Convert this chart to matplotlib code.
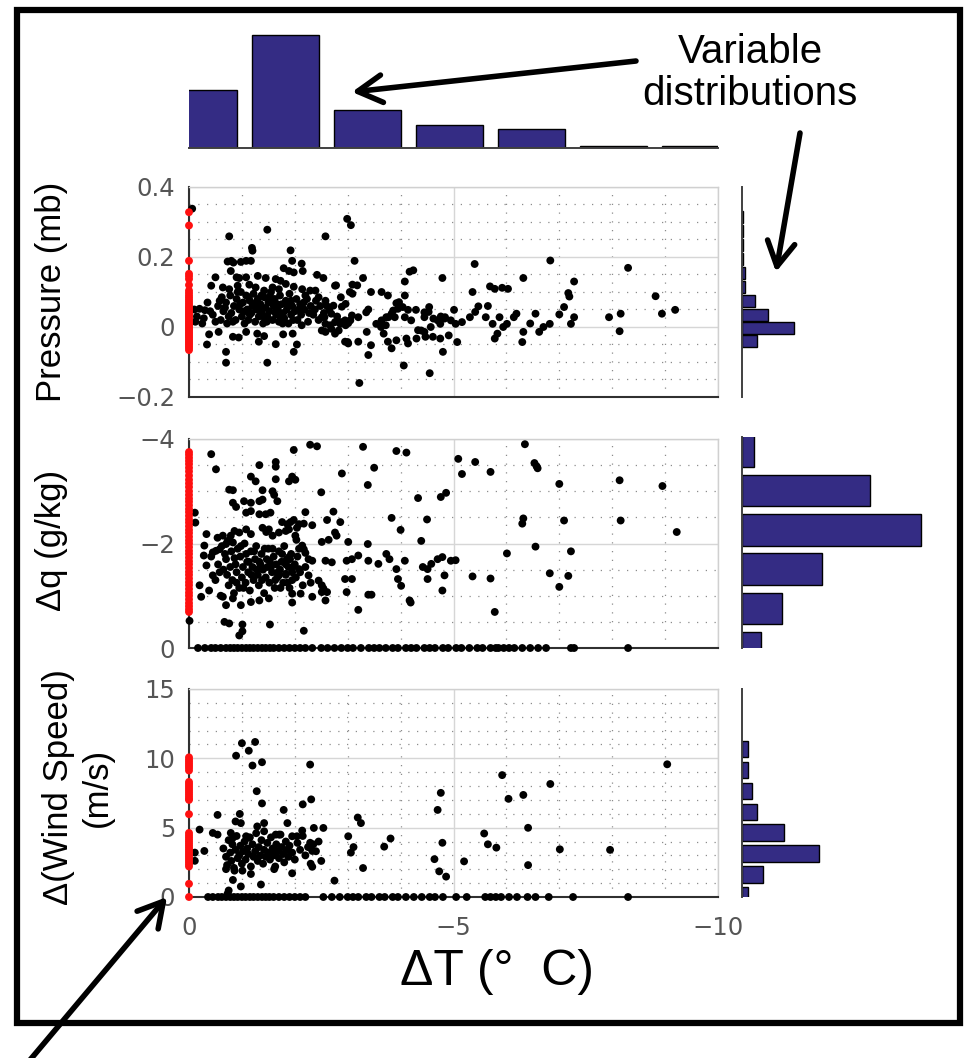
import numpy as np
import matplotlib

matplotlib.use("Agg")
import matplotlib.pyplot as plt
from matplotlib.patches import Rectangle
from matplotlib.ticker import MultipleLocator

# ---------------------------------------------------------------- data
# distribution of dT (top histogram)
dt_bin_centers = [-0.28, -1.83, -3.38, -4.93, -6.48, -8.03, -9.58]
dt_bin_counts = [58, 113, 38, 23, 19, 2, 2]

# pressure vs dT (black), pressure at dT = 0 (red)
pressure_pts = [
    (-0.06, 0.338), (-0.76, 0.259), (-1.48, 0.278), (-1.19, 0.226), (-1.2, 0.218),
    (-1.92, 0.219), (-2.58, 0.259), (-2.99, 0.309), (-3.06, 0.291), (-3.13, 0.189),
    (-0.73, 0.187), (-0.8, 0.189), (-0.84, 0.184), (-0.98, 0.186), (-1.08, 0.189),
    (-1.17, 0.189), (-1.95, 0.189), (-2.13, 0.181), (-0.79, 0.16), (-1.79, 0.168),
    (-1.89, 0.16), (-1.98, 0.156), (-2.15, 0.16), (-0.5, 0.142), (-0.9, 0.142),
    (-0.95, 0.14), (-1.08, 0.142), (-1.3, 0.146), (-1.45, 0.14), (-1.64, 0.137),
    (-1.73, 0.132), (-1.83, 0.123), (-2.42, 0.149), (-2.54, 0.14), (-3.29, 0.14),
    (-4.17, 0.158), (-4.08, 0.13), (-4.79, 0.14), (-0.42, 0.118), (-0.64, 0.113),
    (-0.76, 0.108), (-0.92, 0.118), (-1.14, 0.121), (-1.26, 0.113), (-1.42, 0.104),
    (-1.58, 0.113), (-1.7, 0.108), (-1.98, 0.115), (-2.14, 0.108), (-2.29, 0.104),
    (-2.39, 0.104), (-2.76, 0.118), (-3.09, 0.121), (-3.04, 0.1), (-3.44, 0.1),
    (-3.64, 0.1), (-3.76, 0.09), (-4.08, 0.09), (-2.45, 0.085), (-2.58, 0.075),
    (-2.6, 0.061), (-2.89, 0.058), (-2.73, 0.061), (-3.39, 0.05), (-3.35, 0.042),
    (-3.92, 0.068), (-3.95, 0.052), (-4.14, 0.049), (-4.29, 0.049), (-4.45, 0.042),
    (-4.54, 0.057), (-4.76, 0.03), (-5.01, 0.049), (-3.08, 0.033), (-3.2, 0.028),
    (-2.95, 0.019), (-3.01, 0.011), (-3.54, 0.009), (-3.64, 0.019), (-3.73, 0.028),
    (-3.83, 0.038), (-3.89, 0.028), (-4.2, 0.019), (-4.45, 0.028), (-4.7, 0.019),
    (-4.83, 0.024), (-4.95, 0.019), (-2.51, 0.028), (-2.76, 0.014), (-2.67, 0.005),
    (-2.58, 0.009), (-2.86, 0.009), (-2.69, -0.005), (-2.83, -0.01), (-2.96, 0.005),
    (-2.87, 0.014), (-2.56, 0.028), (-2.69, 0.038), (-2.78, 0.119), (-2.87, 0.085),
    (-2.96, 0.066), (-3.09, 0.095), (-3.18, 0.119), (-3.05, 0.019), (-3.63, 0.0),
    (-3.68, -0.019), (-3.72, 0.005), (-3.77, 0.028), (-3.86, 0.047), (-3.97, 0.071),
    (-4.04, 0.057), (-4.08, 0.028), (-4.14, -0.047), (-4.3, -0.033), (-4.39, -0.01),
    (-4.47, -0.028), (-4.53, 0.043), (-4.57, 0.0), (-4.62, 0.024), (-4.75, 0.009),
    (-4.75, -0.033), (-4.91, -0.024), (-5.07, -0.043), (-4.84, 0.028), (-4.24, 0.162),
    # dense cloud near the origin
    (-0.1, 0.05), (-0.2, 0.052), (-0.3, 0.048), (-0.4, 0.045), (-0.15, 0.03),
    (-0.28, 0.025), (-0.45, 0.035), (-0.55, 0.06), (-0.6, 0.02), (-0.65, 0.045),
    (-0.7, 0.07), (-0.72, 0.01), (-0.78, 0.09), (-0.8, 0.04), (-0.85, 0.06),
    (-0.88, 0.02), (-0.9, 0.08), (-0.95, 0.05), (-0.98, 0.1), (-1.0, 0.03),
    (-1.02, 0.07), (-1.05, 0.01), (-1.08, 0.09), (-1.1, 0.05), (-1.12, 0.02),
    (-1.15, 0.075), (-1.18, 0.04), (-1.2, 0.06), (-1.22, 0.095), (-1.25, 0.015),
    (-1.28, 0.05), (-1.3, 0.08), (-1.32, 0.03), (-1.35, 0.065), (-1.38, 0.04),
    (-1.4, 0.01), (-1.42, 0.085), (-1.45, 0.055), (-1.48, 0.03), (-1.5, 0.07),
    (-1.52, 0.045), (-1.55, 0.1), (-1.58, 0.02), (-1.6, 0.06), (-1.62, 0.08),
    (-1.65, 0.035), (-1.68, 0.05), (-1.7, 0.015), (-1.72, 0.09), (-1.75, 0.065),
    (-1.78, 0.04), (-1.8, 0.025), (-1.83, 0.075), (-1.85, 0.05), (-1.88, 0.01),
    (-1.9, 0.095), (-1.93, 0.035), (-1.95, 0.06), (-2.0, 0.045), (-2.03, 0.08),
    (-2.05, 0.02), (-2.1, 0.065), (-2.12, 0.035), (-2.18, 0.05), (-2.2, 0.09),
    (-2.25, 0.015), (-2.3, 0.06), (-2.35, 0.035), (-2.4, 0.075), (-2.45, 0.02),
    (-0.62, 0.085), (-0.75, 0.03), (-0.92, 0.1), (-1.05, 0.045), (-1.15, 0.035),
    (-1.27, 0.07), (-1.37, 0.09), (-1.47, 0.015), (-1.57, 0.075), (-1.67, 0.065),
    (-1.77, 0.01), (-1.87, 0.06), (-1.97, 0.02), (-2.07, 0.05), (-2.17, 0.07),
    (-2.27, 0.04), (-0.5, 0.015), (-0.58, 0.075), (-0.68, 0.055), (-0.83, 0.015),
    (-0.97, 0.065), (-1.13, 0.085), (-1.33, 0.055), (-1.43, 0.025), (-1.53, 0.088),
    (-1.63, 0.042), (-1.73, 0.028), (-1.93, 0.075), (-2.13, 0.005), (-2.23, 0.08),
    (-2.38, 0.05), (-2.48, 0.06), (-2.55, 0.04), (-2.65, 0.05), (-2.8, 0.03),
    (-0.35, 0.07), (-0.25, 0.01), (-0.12, 0.015),
    # below zero
    (-0.38, -0.021), (-0.56, -0.014), (-0.34, -0.05), (-0.7, -0.071), (-0.7, -0.102),
    (-0.83, -0.028), (-0.94, -0.03), (-1.08, -0.014), (-1.29, -0.019), (-1.32, -0.042),
    (-1.42, -0.026), (-1.64, -0.049), (-1.78, -0.021), (-1.96, -0.019), (-2.04, -0.05),
    (-1.98, -0.071), (-1.48, -0.102), (-2.51, -0.01), (-2.58, -0.014), (-2.76, -0.019),
    (-2.95, -0.042), (-3.01, -0.047), (-3.2, -0.042), (-3.36, -0.014), (-3.39, -0.08),
    (-3.44, -0.052), (-3.22, -0.16), (-3.76, -0.042), (-3.83, -0.061), (-3.92, -0.038),
    (-4.06, -0.11), (-4.11, -0.033), (-4.33, -0.009), (-4.45, -0.014), (-4.61, -0.028),
    (-4.8, -0.071), (-4.55, -0.132), (-3.0, -0.043),
    # beyond -5
    (-5.4, 0.18), (-6.83, 0.19), (-8.3, 0.169), (-6.32, 0.14), (-7.28, 0.13),
    (-5.36, 0.1), (-5.69, 0.116), (-5.78, 0.109), (-5.92, 0.112), (-6.03, 0.109),
    (-7.17, 0.097), (-7.19, 0.087), (-8.82, 0.088), (-7.09, 0.057), (-9.19, 0.049),
    (-8.94, 0.038), (-7.94, 0.028), (-8.16, 0.038), (-8.14, -0.012), (-7.28, 0.028),
    (-7.22, 0.009), (-7.0, 0.036), (-6.82, 0.009), (-6.62, -0.014), (-6.55, 0.038),
    (-6.32, -0.014), (-6.3, -0.043), (-6.14, 0.028), (-5.87, 0.028), (-5.74, 0.009),
    (-6.01, 0.009), (-5.83, -0.019), (-5.78, -0.033), (-6.19, 0.038), (-5.94, 0.0),
    (-5.61, 0.028), (-5.41, 0.043), (-5.31, 0.028), (-5.16, 0.014), (-5.04, 0.009),
    (-5.47, 0.059), (-5.65, 0.06), (-6.45, 0.01), (-6.7, 0.0),
]
pressure_red = [
    0.328, 0.29, 0.189, 0.152, 0.145, 0.137, 0.12, 0.104, 0.097, 0.09, 0.084,
    0.078, 0.072, 0.066, 0.06, 0.055, 0.05, 0.045, 0.04, 0.035, 0.03, 0.025,
    0.02, 0.015, 0.01, 0.005, 0.0, -0.005, -0.01, -0.015, -0.02, -0.025, -0.03,
    -0.035, -0.04, -0.045, -0.05, -0.055, -0.06, -0.066,
]

# humidity change vs dT
humidity_pts = [
    (-0.42, -3.71), (-0.51, -3.42), (-1.33, -3.5), (-1.64, -3.56), (-1.64, -3.47),
    (-1.98, -3.79), (-2.29, -3.89), (-2.42, -3.86), (-3.29, -3.85), (-3.92, -3.77),
    (-4.11, -3.74), (-2.89, -3.34), (-3.5, -3.45), (-3.38, -3.12), (-1.17, -3.28),
    (-1.26, -3.19), (-1.64, -3.23), (-1.89, -3.19), (-1.95, -3.28), (-2.01, -3.22),
    (-0.76, -3.03), (-0.83, -3.02), (-1.39, -3.02), (-1.58, -3.0), (-1.61, -2.93),
    (-2.5, -2.98), (-0.83, -2.78), (-1.04, -2.81), (-1.17, -2.78), (-1.33, -2.81),
    (-1.39, -2.84), (-1.67, -2.81), (-0.89, -2.7), (-1.08, -2.59), (-1.17, -2.62),
    (-1.33, -2.56), (-1.45, -2.56), (-1.54, -2.59), (-0.11, -2.59), (-0.12, -2.4),
    (-2.2, -2.6), (-2.73, -2.61), (-2.86, -2.41), (-2.61, -2.45), (-1.76, -2.41),
    (-1.86, -2.37), (-1.92, -2.41), (-1.98, -2.45), (-2.08, -2.37), (-2.17, -2.38),
    (-2.33, -2.35), (-3.83, -2.49), (-4.0, -2.26), (-4.5, -2.46), (-4.33, -2.87),
    (-4.76, -2.89), (-4.86, -2.97), (-1.39, -2.3), (-1.46, -2.22), (-1.51, -2.27),
    (-1.58, -2.15), (-1.7, -2.21), (-1.83, -2.24), (-1.89, -2.27), (-2.01, -2.15),
    (-2.03, -2.07), (-2.04, -2.3), (-1.08, -2.27), (-1.17, -2.18), (-0.95, -2.21),
    (-0.86, -2.24), (-0.79, -2.15), (-0.64, -2.15), (-0.54, -2.11), (-0.33, -2.18),
    (-0.29, -1.96), (-0.28, -1.77), (-0.45, -1.83), (-0.51, -1.86), (-0.58, -1.89),
    (-0.7, -1.99), (-0.76, -2.05), (-0.83, -2.02), (-2.51, -2.03), (-2.64, -2.07),
    (-2.76, -2.21), (-2.79, -2.15), (-3.01, -2.03), (-3.38, -1.99), (-4.39, -2.05),
    (-2.14, -1.96), (-2.17, -1.89), (-2.2, -1.82), (-2.26, -1.7), (-2.33, -1.67),
    (-2.58, -1.67), (-2.7, -1.64), (-2.98, -1.67), (-3.08, -1.7), (-3.2, -1.77),
    (-3.39, -1.67), (-3.58, -1.61), (-3.73, -1.8), (-3.79, -1.7), (-4.08, -1.67),
    (-4.42, -1.55), (-4.58, -1.61), (-4.7, -1.7), (-4.79, -1.74), (-4.95, -1.67),
    (-0.33, -1.58), (-0.45, -1.39), (-0.58, -1.45), (-1.89, -1.74), (-1.7, -1.39),
    (-1.83, -1.42), (-1.95, -1.45), (-2.08, -1.51), (-2.26, -1.39), (-2.45, -1.29),
    (-2.51, -1.2), (-2.54, -1.14), (-2.61, -1.07), (-2.95, -1.32), (-3.08, -1.32),
    (-3.92, -1.51), (-3.95, -1.32), (-4.01, -1.19), (-4.51, -1.51), (-4.51, -1.32),
    (-4.83, -1.39), (-4.79, -1.1), (-0.2, -1.2), (-0.23, -0.98), (-0.64, -0.98),
    (-0.7, -0.82), (-0.83, -0.95), (-0.98, -0.82), (-1.17, -0.88), (-1.33, -0.91),
    (-1.51, -0.95), (-1.95, -1.04), (-1.95, -0.87), (-2.11, -1.04), (-2.33, -0.98),
    (-2.51, -1.07), (-2.58, -0.91), (-2.98, -1.07), (-3.39, -1.02), (-3.45, -1.02),
    (-4.17, -0.91), (-4.19, -0.87), (-3.2, -0.73), (-0.01, -0.52), (-0.67, -0.5),
    (-0.76, -0.47), (-1.01, -0.45), (-1.01, -0.32), (-0.95, -0.24), (-1.53, -0.45),
    (-2.17, -0.33),
    # dense cloud
    (-0.62, -1.95), (-0.7, -1.7), (-0.72, -1.4), (-0.75, -1.2), (-0.78, -1.55),
    (-0.8, -1.85), (-0.82, -1.3), (-0.85, -1.05), (-0.88, -1.6), (-0.9, -1.45),
    (-0.92, -1.9), (-0.95, -1.15), (-0.97, -1.75), (-1.0, -1.35), (-1.02, -1.55),
    (-1.05, -2.0), (-1.07, -1.25), (-1.1, -1.65), (-1.12, -1.45), (-1.15, -1.1),
    (-1.17, -1.85), (-1.2, -1.55), (-1.22, -1.3), (-1.25, -1.7), (-1.27, -1.95),
    (-1.3, -1.4), (-1.32, -1.2), (-1.35, -1.6), (-1.37, -1.8), (-1.4, -1.5),
    (-1.42, -1.05), (-1.45, -1.35), (-1.47, -1.7), (-1.5, -1.9), (-1.52, -1.25),
    (-1.55, -1.55), (-1.57, -1.45), (-1.6, -1.75), (-1.62, -1.15), (-1.65, -1.6),
    (-1.67, -1.35), (-1.7, -1.85), (-1.72, -1.5), (-1.75, -1.65), (-1.78, -1.25),
    (-1.8, -1.95), (-1.83, -1.4), (-1.85, -1.7), (-1.88, -1.55), (-1.9, -1.15),
    (-1.93, -1.8), (-1.95, -1.3), (-2.0, -1.6), (-2.05, -1.75), (-2.1, -1.45),
    (-0.65, -1.5), (-0.68, -1.8), (-0.73, -2.05), (-0.86, -1.72), (-0.98, -1.95),
    (-1.08, -1.8), (-1.18, -1.4), (-1.28, -1.5), (-1.38, -1.3), (-1.48, -1.55),
    (-1.58, -1.9), (-1.68, -1.45), (-1.76, -1.8), (-1.86, -1.25), (-1.96, -1.55),
    (-2.02, -1.35), (-0.9, -1.25), (-1.03, -1.15), (-1.13, -1.65), (-1.23, -1.85),
    (-1.33, -1.65), (-1.43, -1.9), (-1.53, -1.65), (-1.63, -1.3), (-1.73, -1.15),
    (-1.83, -1.6), (-1.91, -1.7), (-2.08, -1.9), (-0.55, -1.6), (-0.5, -1.3),
    (-0.42, -1.75), (-0.38, -1.1), (-0.6, -1.0), (-2.15, -1.2), (-2.2, -1.55),
    (-2.3, -1.25),
    # beyond -5
    (-5.09, -3.62), (-5.16, -3.33), (-5.41, -3.56), (-5.7, -3.37), (-6.35, -3.9),
    (-6.53, -3.54), (-6.57, -3.48), (-6.59, -3.44), (-7.0, -3.14), (-8.14, -3.21),
    (-8.95, -3.1), (-6.32, -2.48), (-6.3, -2.38), (-7.09, -2.44), (-8.16, -2.44),
    (-9.22, -2.22), (-6.55, -1.94), (-6.01, -1.81), (-7.22, -1.85), (-6.82, -1.43),
    (-7.17, -1.38), (-7.0, -1.17), (-5.36, -1.37), (-5.7, -1.33), (-5.78, -0.69),
    (-5.04, -1.68),
]
humidity_zero_dt = [
    -0.17, -0.3, -0.42, -0.5, -0.6, -0.7, -0.78, -0.85, -0.92, -1.0, -1.08,
    -1.15, -1.22, -1.3, -1.38, -1.45, -1.53, -1.6, -1.7, -1.8, -1.9, -2.0, -2.1,
    -2.2, -2.33, -2.5, -2.62, -2.75, -2.88, -3.0, -3.1, -3.25, -3.4, -3.5, -3.6,
    -3.72, -3.85, -3.95, -4.1, -4.2, -4.3, -4.45, -4.55, -4.65, -4.8, -4.9,
    -5.05, -5.15, -5.3, -5.45, -5.55, -5.7, -5.8, -5.85, -5.95, -6.05, -6.15,
    -6.3, -6.45, -6.6, -6.75, -7.22, -7.28, -8.3,
]
humidity_red = [
    -3.75, -3.7, -3.64, -3.58, -3.52, -3.45, -3.38, -3.3, -3.22, -3.15, -3.08,
    -3.0, -2.93, -2.86, -2.8, -2.73, -2.66, -2.6, -2.53, -2.46, -2.4, -2.33,
    -2.26, -2.2, -2.13, -2.06, -2.0, -1.93, -1.86, -1.8, -1.73, -1.66, -1.6,
    -1.53, -1.46, -1.4, -1.33, -1.26, -1.2, -1.13, -1.06, -1.0, -0.93, -0.86,
    -0.8, -0.74, -0.69,
]

# wind speed change vs dT
wind_pts = [
    (-0.89, 10.19), (-1.0, 11.09), (-1.13, 10.55), (-1.25, 11.18), (-1.2, 9.48),
    (-1.38, 9.72), (-2.29, 9.55), (-1.28, 7.63), (-1.38, 6.75), (-2.31, 7.04),
    (-2.15, 6.68), (-1.79, 6.28), (-0.54, 5.92), (-0.96, 5.99), (-0.88, 5.45),
    (-0.98, 5.33), (-1.29, 5.09), (-1.42, 5.33), (-1.42, 4.74), (-1.86, 5.33),
    (-2.36, 4.98), (-2.54, 4.98), (-0.83, 1.23), (-1.36, 0.9), (-0.98, 0.76),
    (-0.75, 0.47), (-0.73, 0.24), (-2.75, 1.18), (-3.01, 4.38), (-3.11, 3.6),
    (-3.06, 3.2), (-3.19, 5.73), (-3.25, 5.33), (-3.69, 3.63), (-3.81, 4.22),
    (-3.29, 2.09), (-4.76, 7.51), (-4.7, 6.28), (-4.79, 3.91), (-4.64, 2.73),
    (-4.73, 1.85), (-4.86, 1.47), (-0.2, 4.86), (-0.45, 4.62), (-0.54, 4.5),
    (-0.79, 4.62), (-0.83, 4.27), (-1.08, 4.38), (-1.14, 4.27), (-1.64, 4.5),
    (-1.7, 4.5), (-1.95, 4.38), (-2.04, 4.38), (-2.14, 4.79), (-0.11, 3.2),
    (-0.29, 3.32), (-0.11, 2.61), (-2.33, 3.32), (-2.29, 3.91), (-2.33, 2.18),
    (-1.95, 1.71), (-1.17, 1.66), (-1.01, 1.9), (-0.86, 1.9), (-0.7, 2.01),
    (-1.61, 2.01),
    # dense cloud
    (-0.65, 3.5), (-0.7, 2.9), (-0.72, 2.3), (-0.75, 4.1), (-0.78, 3.2),
    (-0.8, 2.6), (-0.82, 3.8), (-0.85, 2.1), (-0.88, 3.4), (-0.9, 4.4),
    (-0.92, 2.8), (-0.95, 3.0), (-0.97, 3.7), (-1.0, 2.4), (-1.02, 3.3),
    (-1.05, 4.0), (-1.07, 2.7), (-1.1, 3.5), (-1.12, 3.1), (-1.15, 4.3),
    (-1.17, 2.2), (-1.2, 3.8), (-1.22, 2.9), (-1.25, 3.3), (-1.27, 4.6),
    (-1.3, 2.6), (-1.32, 3.6), (-1.35, 3.0), (-1.37, 4.1), (-1.4, 2.4),
    (-1.42, 3.4), (-1.45, 2.9), (-1.48, 3.9), (-1.5, 3.2), (-1.53, 2.7),
    (-1.55, 4.3), (-1.58, 3.5), (-1.6, 3.0), (-1.63, 2.2), (-1.65, 3.8),
    (-1.68, 3.3), (-1.7, 2.8), (-1.73, 4.5), (-1.75, 3.6), (-1.78, 3.1),
    (-1.8, 2.5), (-1.83, 4.0), (-1.85, 3.4), (-1.88, 2.9), (-1.9, 3.7),
    (-1.95, 3.2), (-2.0, 2.7), (-2.05, 3.9), (-2.1, 3.4), (-2.15, 4.4),
    (-2.2, 3.0), (-2.25, 3.6), (-2.3, 2.4), (-2.35, 3.8), (-2.4, 3.3),
    (-2.45, 4.0), (-2.5, 2.6),
    # beyond -5
    (-5.2, 2.57), (-5.58, 4.58), (-5.65, 3.8), (-5.81, 3.56), (-5.92, 8.79),
    (-6.04, 7.08), (-6.32, 7.36), (-6.41, 4.99), (-6.41, 2.3), (-6.83, 8.15),
    (-7.01, 3.44), (-7.96, 3.4), (-9.04, 9.57),
]
wind_zero_dt = [
    -0.36, -0.45, -0.55, -0.62, -0.7, -0.78, -0.85, -0.92, -1.0, -1.07, -1.15,
    -1.22, -1.3, -1.38, -1.45, -1.52, -1.6, -1.7, -1.8, -1.9, -2.0, -2.1, -2.2,
    -2.54, -2.7, -2.85, -3.0, -3.1, -3.2, -3.35, -3.45, -3.6, -3.7, -3.85,
    -3.95, -4.1, -4.25, -4.4, -4.55, -4.65, -4.8, -5.05, -5.25, -5.6, -5.7,
    -5.8, -5.9, -6.05, -6.2, -6.4, -6.55, -6.8, -7.26, -8.3,
]
wind_red = [
    10.07, 9.9, 9.75, 9.6, 9.45, 9.3, 9.12, 8.3, 8.15, 8.0, 7.85, 7.7, 7.55,
    7.4, 7.25, 7.1, 7.0, 5.97, 4.62, 4.45, 4.3, 4.15, 4.0, 3.85, 3.7, 3.55,
    3.4, 3.25, 3.1, 2.95, 2.8, 2.65, 2.5, 2.35, 2.2, 0.95, 0.0,
]

# marginal distributions (side histograms)
pressure_bin_centers = [-0.04, -0.003, 0.034, 0.074, 0.114, 0.155, 0.195, 0.235, 0.275, 0.315]
pressure_bin_counts = [14.7, 51.7, 26.3, 13.0, 3.3, 3.3, 0.8, 0.8, 0.8, 0.8]
humidity_bin_centers = [-3.77, -3.02, -2.26, -1.51, -0.75, 0.0]
humidity_bin_counts = [12.3, 128, 179, 80, 40, 19]
wind_bin_centers = [0.1, 1.61, 3.12, 4.63, 6.14, 7.65, 9.16, 10.67]
wind_bin_counts = [5.7, 21.3, 77, 42.3, 14.7, 10, 5.7, 5.7]

# tick labels
dt_ticks = [0, -5, -10]
dt_labels = ["0", "\u22125", "\u221210"]
pressure_ticks = [-0.2, 0, 0.2, 0.4]
pressure_labels = ["\u22120.2", "0", "0.2", "0.4"]
humidity_ticks = [0, -2, -4]
humidity_labels = ["0", "\u22122", "\u22124"]
wind_ticks = [0, 5, 10, 15]
wind_labels = ["0", "5", "10", "15"]

# ---------------------------------------------------------------- layout
W, H = 967, 1058
BAR_COLOR = "#342c84"
LABEL_FONT = "Liberation Sans"
DOT_SIZE = 32


def box(x0, y0, x1, y1):
    """Pixel box (top-left origin) -> figure fraction rect."""
    return [x0 / W, 1 - y1 / H, (x1 - x0) / W, (y1 - y0) / H]


def style_scatter(ax, ylim, ticks, labels, minor):
    ax.set_xlim(0, -10)
    ax.set_ylim(*ylim)
    ax.set_xticks(dt_ticks)
    ax.xaxis.set_minor_locator(MultipleLocator(1))
    ax.set_yticks(ticks)
    ax.set_yticklabels(labels)
    ax.yaxis.set_minor_locator(MultipleLocator(minor))
    ax.grid(which="major", color="#d6d6d6", lw=1.0)
    ax.grid(which="minor", color="#8c8c8c", lw=0.9, linestyle=(0, (1, 6)))
    ax.set_axisbelow(True)
    ax.tick_params(which="both", length=0, labelsize=17.5, labelcolor="#555555", pad=10)
    for side in ("top", "right"):
        ax.spines[side].set_color("#d0d0d0")
        ax.spines[side].set_linewidth(1.0)
    for side in ("left", "bottom"):
        ax.spines[side].set_color("#303030")
        ax.spines[side].set_linewidth(1.5)


def draw_points(ax, pts, red_y, zero_x=None):
    pts = np.array(pts)
    ax.scatter(pts[:, 0], pts[:, 1], s=DOT_SIZE, c="black", edgecolors="none", zorder=3,
               clip_on=False)
    if zero_x is not None:
        ax.scatter(zero_x, np.zeros(len(zero_x)), s=DOT_SIZE, c="black", edgecolors="none",
                   zorder=3, clip_on=False)
    ax.scatter(np.zeros(len(red_y)), red_y, s=DOT_SIZE, c="#ff1010", edgecolors="none",
               zorder=4, clip_on=False)


def style_side_hist(ax, ylim):
    ax.set_xlim(0, 188)
    ax.set_ylim(*ylim)
    ax.set_xticks([])
    ax.set_yticks([])
    for side in ("top", "right", "bottom"):
        ax.spines[side].set_visible(False)
    ax.spines["left"].set_color("#404040")
    ax.spines["left"].set_linewidth(1.4)
    ax.patch.set_alpha(0)


fig = plt.figure(figsize=(W / 100, H / 100), dpi=100)

# top histogram of dT
ax_top = fig.add_axes(box(189, 33, 718, 148))
ax_top.bar(dt_bin_centers, dt_bin_counts, width=1.27, color=BAR_COLOR, edgecolor="black", lw=1.0)
ax_top.set_xlim(0, -10)
ax_top.set_ylim(0, 115)
ax_top.set_xticks([])
ax_top.set_yticks([])
for side in ("top", "right", "left"):
    ax_top.spines[side].set_visible(False)
ax_top.spines["bottom"].set_color("#404040")
ax_top.spines["bottom"].set_linewidth(1.4)
ax_top.patch.set_alpha(0)

# scatter panels
ax_p = fig.add_axes(box(189, 187, 718, 397))
style_scatter(ax_p, (-0.2, 0.4), pressure_ticks, pressure_labels, 0.05)
ax_p.tick_params(labelbottom=False)
draw_points(ax_p, pressure_pts, pressure_red)

ax_q = fig.add_axes(box(189, 439, 718, 648))
style_scatter(ax_q, (0, -4), humidity_ticks, humidity_labels, 0.5)
ax_q.tick_params(labelbottom=False)
draw_points(ax_q, humidity_pts, humidity_red, humidity_zero_dt)

ax_w = fig.add_axes(box(189, 689, 718, 897))
style_scatter(ax_w, (0, 15), wind_ticks, wind_labels, 1)
ax_w.set_xticklabels(dt_labels)
ax_w.tick_params(axis="x", pad=14)
draw_points(ax_w, wind_pts, wind_red, wind_zero_dt)

# side histograms
ax_hp = fig.add_axes(box(742, 187, 930, 397))
ax_hp.barh(pressure_bin_centers, pressure_bin_counts, height=0.035, color=BAR_COLOR,
           edgecolor="black", lw=1.0)
style_side_hist(ax_hp, (-0.2, 0.4))

ax_hq = fig.add_axes(box(742, 437, 930, 648))
ax_hq.barh(humidity_bin_centers, humidity_bin_counts, height=0.6, color=BAR_COLOR,
           edgecolor="black", lw=1.0)
style_side_hist(ax_hq, (0, -4.04))

ax_hw = fig.add_axes(box(742, 689, 930, 897))
ax_hw.barh(wind_bin_centers, wind_bin_counts, height=1.2, color=BAR_COLOR,
           edgecolor="black", lw=1.0)
style_side_hist(ax_hw, (0, 15))

# axis labels
fig.text(52 / W, 1 - 292 / H, "Pressure (mb)", rotation=90, ha="center", va="center",
         fontsize=25, family=LABEL_FONT)
fig.text(52 / W, 1 - 540 / H, "\u0394q (g/kg)", rotation=90, ha="center", va="center",
         fontsize=25, family=LABEL_FONT)
fig.text(78 / W, 1 - 787 / H, "\u0394(Wind Speed)\n(m/s)", rotation=90, ha="center",
         va="center", fontsize=25, family=LABEL_FONT, multialignment="center",
         linespacing=1.25)
fig.text(497 / W, 1 - 972 / H, "\u0394T (\u00b0  C)", ha="center", va="center",
         fontsize=36, family=LABEL_FONT)

# overlay in pixel coordinates: callout text, arrows, frame
ov = fig.add_axes([0, 0, 1, 1], zorder=10)
ov.set_xlim(0, W)
ov.set_ylim(H, 0)
ov.axis("off")
ov.patch.set_alpha(0)

ov.text(750, 73, "Variable\ndistributions", ha="center", va="center", fontsize=29,
        family=LABEL_FONT, linespacing=1.15)

arrow_style = dict(arrowstyle="->,head_length=0.8,head_width=0.45", lw=4.0, color="black",
                   shrinkA=0, shrinkB=0, mutation_scale=22)
ov.annotate("", xy=(352, 92), xytext=(636, 61), arrowprops=arrow_style)
ov.annotate("", xy=(776, 272), xytext=(800, 133), arrowprops=arrow_style)
ov.annotate("", xy=(167, 897), xytext=(30, 1060), arrowprops=arrow_style,
            annotation_clip=False)

ov.add_patch(Rectangle((17, 10), 943, 1013, fill=False, lw=4.5, ec="black"))

fig.savefig("out.png", dpi=100)
